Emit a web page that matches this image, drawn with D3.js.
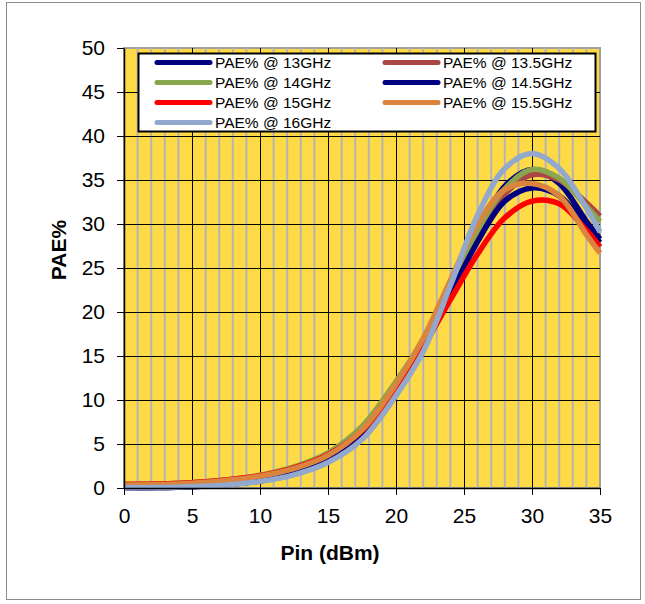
<!DOCTYPE html>
<html>
<head>
<meta charset="utf-8">
<script src="https://cdn.jsdelivr.net/npm/d3@7"></script>
<style>
  body { margin: 0; background: #fff; }
  text { font-family: "Liberation Sans", Arial, sans-serif; }
</style>
</head>
<body>
<div id="chart"></div>
<script>
// input power points (dBm)
var pin = [0, 2.5, 5, 7.5, 10, 12.5, 15, 17.5, 20, 22, 24, 26, 28, 30, 32, 34, 35];

// PAE% per frequency
var pae13   = [0.05, 0.05, 0.15, 0.4, 0.8, 1.6, 3.1, 5.9, 11.0, 16.3, 22.5, 29.0, 34.3, 36.2, 34.6, 30.3, 28.3];
var pae13_5 = [0.4, 0.45, 0.6, 0.9, 1.4, 2.3, 3.8, 6.7, 11.6, 16.5, 22.5, 28.8, 33.4, 35.6, 35.0, 32.4, 30.9];
var pae14   = [0.4, 0.45, 0.6, 0.9, 1.45, 2.4, 4.0, 7.0, 12.1, 16.9, 23.0, 29.3, 34.0, 36.2, 35.2, 32.0, 30.3];
var pae14_5 = [0.05, 0.05, 0.15, 0.4, 0.85, 1.7, 3.2, 6.0, 11.1, 16.1, 22.0, 28.0, 32.6, 34.1, 33.2, 29.7, 27.9];
var pae15   = [0.4, 0.45, 0.6, 0.9, 1.4, 2.3, 3.8, 6.5, 11.3, 16.0, 21.4, 26.6, 30.7, 32.6, 32.3, 29.3, 27.4];
var pae15_5 = [0.35, 0.4, 0.55, 0.85, 1.35, 2.2, 3.7, 6.6, 11.8, 17.0, 23.6, 30.0, 33.9, 34.6, 33.2, 28.8, 26.7];
var pae16   = [0.05, 0.05, 0.15, 0.35, 0.75, 1.5, 2.9, 5.5, 10.5, 15.5, 23.0, 31.0, 36.3, 38.0, 36.3, 31.8, 29.1];

var names  = ['PAE% @ 13GHz', 'PAE% @ 13.5GHz', 'PAE% @ 14GHz', 'PAE% @ 14.5GHz',
              'PAE% @ 15GHz', 'PAE% @ 15.5GHz', 'PAE% @ 16GHz'];
var colors = ['#000080', '#AA4643', '#89A54E', '#000080', '#FF0000', '#DB843D', '#92A8CD'];
var xTicks = [0, 5, 10, 15, 20, 25, 30, 35];
var yTicks = [0, 5, 10, 15, 20, 25, 30, 35, 40, 45, 50];

function plotPae() {
  let series = [pae13, pae13_5, pae14, pae14_5, pae15, pae15_5, pae16].map(function(v, i) {
    return { name: names[i], color: colors[i], values: v.map(function(y, j) { return [pin[j], y]; }) };
  });

  let width = 645, height = 604;
  let pl = 124, pr = 600, pt = 48, pb = 488;

  let svg = d3.select('#chart').append('svg')
    .attr('width', width)
    .attr('height', height);

  // outer chart border
  svg.append('rect')
    .attr('x', 6.5).attr('y', 2.5)
    .attr('width', 634).attr('height', 597)
    .attr('fill', 'white')
    .attr('stroke', '#8c8c8c');

  let x = d3.scaleLinear().domain([0, 35]).range([pl, pr]);
  let y = d3.scaleLinear().domain([0, 50]).range([pb, pt]);

  // plot area
  svg.append('rect')
    .attr('x', pl).attr('y', pt)
    .attr('width', pr - pl).attr('height', pb - pt)
    .attr('fill', '#FFDA47')
    .attr('stroke', '#a0a0a0')
    .attr('stroke-width', 2);

  // minor vertical grid every 1 dBm
  svg.append('g').selectAll('line')
    .data(d3.range(1, 35).filter(d => d % 5 != 0))
    .enter().append('line')
    .attr('x1', d => x(d)).attr('x2', d => x(d))
    .attr('y1', pt).attr('y2', pb)
    .attr('stroke', '#b4b4b4')
    .attr('stroke-width', 2);

  // major grid
  svg.append('g').selectAll('line')
    .data(xTicks.slice(1, -1))
    .enter().append('line')
    .attr('x1', d => x(d) + 0.5).attr('x2', d => x(d) + 0.5)
    .attr('y1', pt).attr('y2', pb)
    .attr('stroke', '#000')
    .attr('stroke-width', 1);

  svg.append('g').selectAll('line')
    .data(yTicks.slice(1, -1))
    .enter().append('line')
    .attr('x1', pl).attr('x2', pr)
    .attr('y1', d => Math.round(y(d)) + 0.5).attr('y2', d => Math.round(y(d)) + 0.5)
    .attr('stroke', '#000')
    .attr('stroke-width', 1);

  // curves
  let line = d3.line()
    .x(d => x(d[0]))
    .y(d => y(d[1]))
    .curve(d3.curveCatmullRom.alpha(0.5));

  svg.append('g').selectAll('path')
    .data(series)
    .enter().append('path')
    .attr('d', d => line(d.values))
    .attr('fill', 'none')
    .attr('stroke', d => d.color)
    .attr('stroke-width', 5.5)
    .attr('stroke-linejoin', 'round');

  // axes
  let xAxis = svg.append('g')
    .attr('transform', 'translate(0,' + pb + ')')
    .call(d3.axisBottom(x).tickValues(xTicks).tickSize(7).tickSizeOuter(0).tickPadding(8));
  let yAxis = svg.append('g')
    .attr('transform', 'translate(' + pl + ',0)')
    .call(d3.axisLeft(y).tickValues(yTicks).tickSize(7).tickSizeOuter(0).tickPadding(12));

  [xAxis, yAxis].forEach(function(a) {
    a.select('.domain').attr('stroke', '#000').attr('stroke-width', 1.5);
    a.selectAll('.tick line').attr('stroke', '#000');
    a.selectAll('.tick text')
      .attr('fill', '#000')
      .style('font-family', '"Liberation Sans", Arial, sans-serif')
      .style('font-size', '21px');
  });
  xAxis.selectAll('.tick text').attr('dy', '0.95em');

  // axis titles
  svg.append('text')
    .attr('x', 330).attr('y', 560)
    .attr('text-anchor', 'middle')
    .style('font-size', '21px')
    .style('font-weight', 'bold')
    .text('Pin (dBm)');

  svg.append('text')
    .attr('transform', 'translate(66,250) rotate(-90)')
    .attr('text-anchor', 'middle')
    .style('font-size', '21px')
    .style('font-weight', 'bold')
    .text('PAE%');

  // legend
  let lg = svg.append('g');
  lg.append('rect')
    .attr('x', 138.5).attr('y', 53.5)
    .attr('width', 457).attr('height', 78)
    .attr('fill', 'white')
    .attr('stroke', '#000')
    .attr('stroke-width', 2);

  // two columns: left = 13, 14, 15, 16 ; right = 13.5, 14.5, 15.5
  let items = lg.selectAll('g.item')
    .data(series)
    .enter().append('g')
    .attr('class', 'item')
    .attr('transform', function(d, i) {
      let col = i % 2, row = Math.floor(i / 2);
      return 'translate(' + (col ? 385 : 157) + ',' + (62.5 + row * 20) + ')';
    });

  items.append('line')
    .attr('x1', 0).attr('x2', 53)
    .attr('stroke', d => d.color)
    .attr('stroke-width', 5)
    .attr('stroke-linecap', 'round');

  items.append('text')
    .attr('x', 58).attr('y', 5)
    .style('font-size', '15.5px')
    .text(d => d.name);
}
plotPae();
</script>
</body>
</html>
